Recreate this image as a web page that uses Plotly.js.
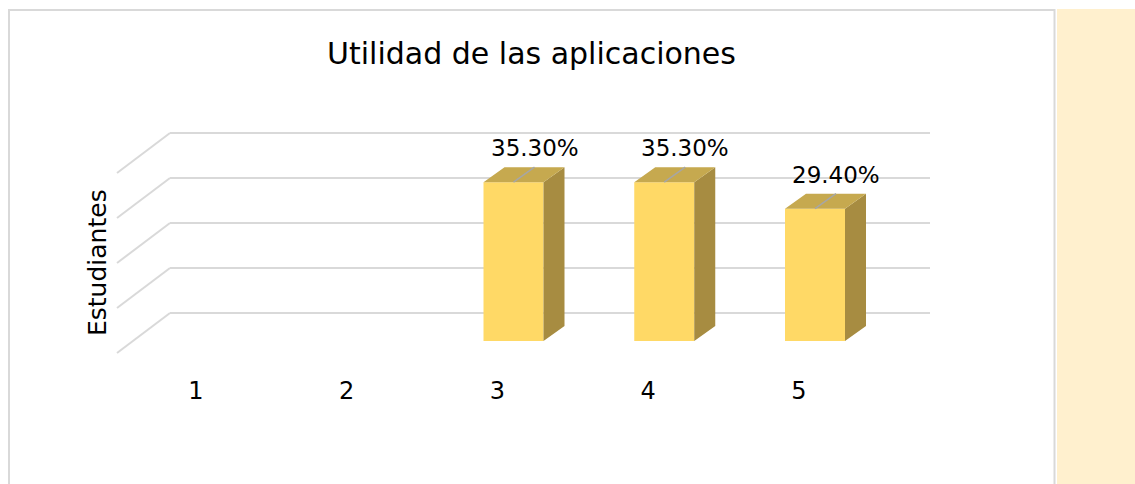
<!DOCTYPE html>
<html>
<head>
<meta charset="utf-8">
<script src="https://cdn.plot.ly/plotly-3.0.1.min.js"></script>
<style>
  html, body { margin: 0; padding: 0; background: #ffffff; }
  #chart { width: 1135px; height: 484px; }
</style>
</head>
<body>
<div id="chart"></div>
<script>
// ---- data ----
const categories = [1, 2, 3, 4, 5];
const tickLabels = ['1', '2', '3', '4', '5'];
const values = [null, null, 35.3, 35.3, 29.4];   // percent of students
const gridValues = [0, 10, 20, 30, 40];
const titleText = 'Utilidad de las aplicaciones';
const yTitleText = 'Estudiantes';

// ---- geometry / style ----
const W = 1135, H = 484;
const px = p => p / W;
const py = p => 1 - p / H;
const FONT = 'DejaVu Sans, Liberation Sans, sans-serif';

const X_PX_PER_UNIT = 150.75, X_FIRST_PX = 196;   // category 1 centre
const Y_PX_PER_UNIT = 4.5, Y_ZERO_PX = 341;
const Y2_BOTTOM_PX = 374, Y2_TOP_PX = 9;
const BAR_W = 60 / X_PX_PER_UNIT;
const BAR_OFF = -14 / X_PX_PER_UNIT;
const DX = 21 / X_PX_PER_UNIT;     // depth offset (x units)
const DY = 15 / Y_PX_PER_UNIT;     // depth offset (y units)

const COL_FRONT = '#FFD966', COL_TOP = '#C6A94F', COL_SIDE = '#A78C41';
const GRID = '#D9D9D9';

const x2range = [1 - X_FIRST_PX / X_PX_PER_UNIT, 1 + (W - X_FIRST_PX) / X_PX_PER_UNIT];
const y2range = [-(Y2_BOTTOM_PX - Y_ZERO_PX) / Y_PX_PER_UNIT, (Y_ZERO_PX - Y2_TOP_PX) / Y_PX_PER_UNIT];

// wall grid axis: 0 at 313px, 40 at 133px
const WALL_PX_PER_UNIT = 4.5, WALL_ZERO_PX = 313;
const wallRange = [-12, 40.5];
const wallDomain = [py(WALL_ZERO_PX - wallRange[0] * WALL_PX_PER_UNIT), py(WALL_ZERO_PX - wallRange[1] * WALL_PX_PER_UNIT)];

// ---- build 3D faces from data ----
const sideX = [], sideY = [], topX = [], topY = [], leadX = [], leadY = [];
const annotations = [];
categories.forEach((c, i) => {
  const v = values[i];
  if (v === null || v === undefined) return;
  const xl = c + BAR_OFF, xr = xl + BAR_W, xm = xl + BAR_W / 2;
  sideX.push(xr, xr + DX, xr + DX, xr, null);
  sideY.push(0, DY, v + DY, v, null);
  topX.push(xl, xl + DX, xr + DX, xr, null);
  topY.push(v, v + DY, v + DY, v, null);
  leadX.push(xm, xm + DX, null);
  leadY.push(v, v + DY, null);
  annotations.push({
    xref: 'x2', yref: 'y2', x: xm + DX, y: v + DY,
    text: v.toFixed(2) + '%', showarrow: false,
    xanchor: 'center', yanchor: 'bottom', yshift: 4,
    font: { family: FONT, size: 23, color: '#000000' }
  });
});

annotations.push({
  xref: 'paper', yref: 'paper', x: px(97), y: py(263),
  text: yTitleText, showarrow: false, textangle: -90,
  xanchor: 'center', yanchor: 'middle',
  font: { family: FONT, size: 25, color: '#000000' }
});

const traces = [
  { type: 'scatter', x: [0.5], y: [-100], xaxis: 'x', yaxis: 'y', mode: 'markers',
    marker: { opacity: 0 }, hoverinfo: 'skip', showlegend: false },
  { type: 'bar', x: categories, y: values, xaxis: 'x2', yaxis: 'y2',
    width: BAR_W, offset: BAR_OFF,
    marker: { color: COL_FRONT, line: { width: 0 } }, hoverinfo: 'skip', showlegend: false },
  { type: 'scatter', x: sideX, y: sideY, xaxis: 'x2', yaxis: 'y2', mode: 'lines',
    fill: 'toself', fillcolor: COL_SIDE, line: { width: 0, color: COL_SIDE },
    hoverinfo: 'skip', showlegend: false },
  { type: 'scatter', x: topX, y: topY, xaxis: 'x2', yaxis: 'y2', mode: 'lines',
    fill: 'toself', fillcolor: COL_TOP, line: { width: 0, color: COL_TOP },
    hoverinfo: 'skip', showlegend: false },
  { type: 'scatter', x: leadX, y: leadY, xaxis: 'x2', yaxis: 'y2', mode: 'lines',
    line: { width: 1.5, color: '#A6A6A6' }, hoverinfo: 'skip', showlegend: false }
];

const shapes = [
  // cream side panel
  { type: 'rect', xref: 'paper', yref: 'paper', x0: px(1057), x1: px(1140), y0: py(490), y1: py(9),
    fillcolor: '#FFF0CE', line: { width: 0 }, layer: 'below' },
  // chart frame
  { type: 'rect', xref: 'paper', yref: 'paper', x0: px(9), x1: px(1054.5), y0: py(495), y1: py(10),
    fillcolor: 'rgba(0,0,0,0)', line: { width: 2, color: GRID }, layer: 'below' }
];
gridValues.forEach(g => {
  shapes.push({ type: 'line', xref: 'paper', yref: 'y', x0: px(170), x1: px(117),
    y0: g, y1: g - 40 / WALL_PX_PER_UNIT, line: { width: 2, color: GRID }, layer: 'below' });
});

const layout = {
  width: W, height: H,
  margin: { l: 0, r: 0, t: 0, b: 0, pad: 0 },
  paper_bgcolor: '#ffffff', plot_bgcolor: 'rgba(0,0,0,0)',
  showlegend: false,
  title: { text: titleText, x: px(531.5), xanchor: 'center', xref: 'paper',
    y: py(53), yanchor: 'middle', yref: 'paper',
    font: { family: FONT, size: 30, color: '#000000' } },
  xaxis: { domain: [px(170), px(930)], range: [0, 1], showgrid: false, zeroline: false,
    showticklabels: false, ticks: '', showline: false, fixedrange: true },
  yaxis: { domain: wallDomain, range: wallRange, tickvals: gridValues, showgrid: true,
    gridcolor: GRID, gridwidth: 2, zeroline: false, showticklabels: false, ticks: '',
    showline: false, fixedrange: true },
  xaxis2: { domain: [0, 1], range: x2range, anchor: 'y2', tickvals: categories, ticktext: tickLabels,
    showgrid: false, zeroline: false, showline: false, ticks: '',
    tickfont: { family: FONT, size: 24, color: '#000000' }, fixedrange: true },
  yaxis2: { domain: [py(Y2_BOTTOM_PX), py(Y2_TOP_PX)], range: y2range, anchor: 'x2',
    visible: false, showgrid: false, zeroline: false, fixedrange: true },
  shapes: shapes,
  annotations: annotations
};

Plotly.newPlot('chart', traces, layout, { displayModeBar: false, staticPlot: true });
</script>
</body>
</html>
